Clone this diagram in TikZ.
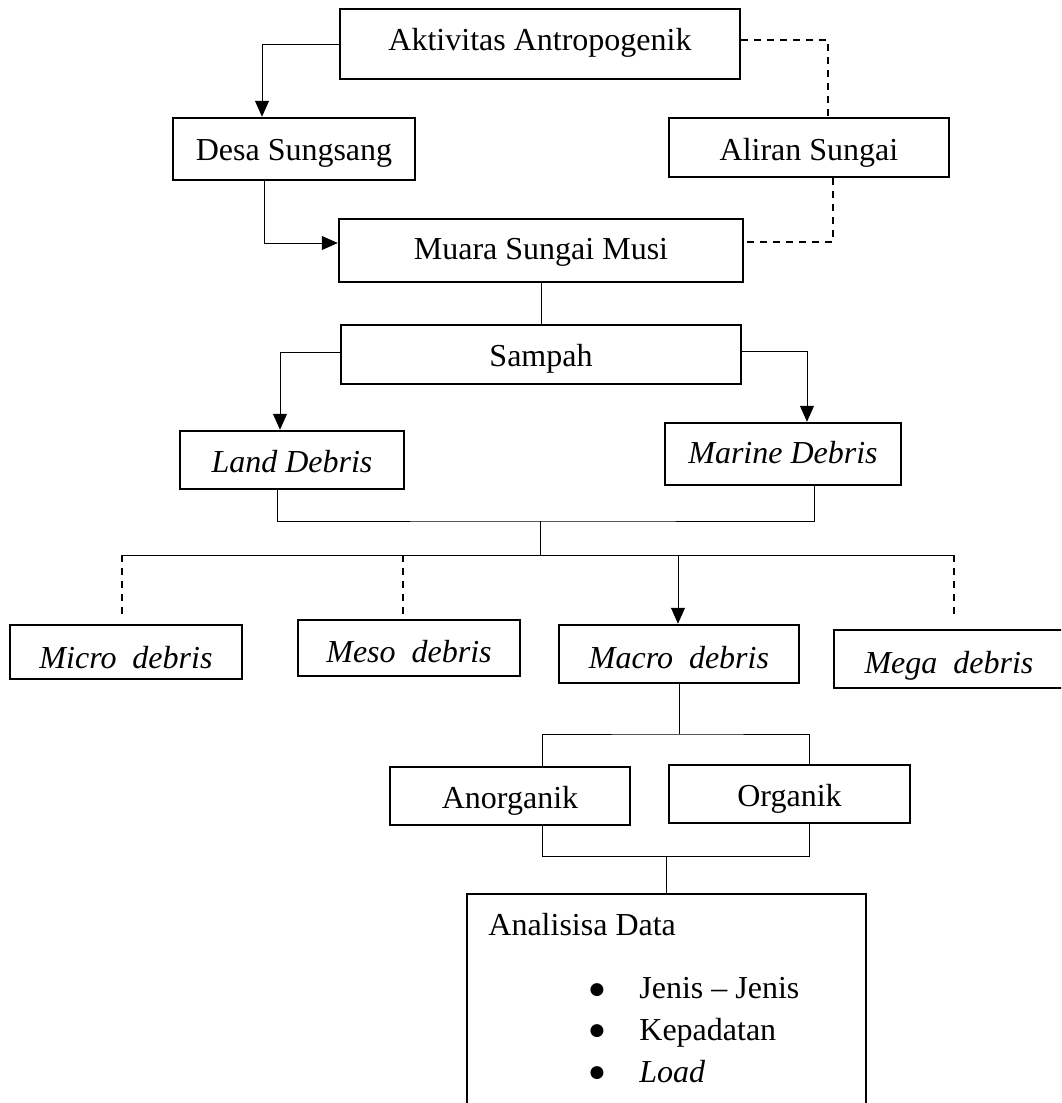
\documentclass[tikz,border=0pt]{standalone}
\usepackage{fontspec}
\setmainfont{Liberation Serif}
\newfontfamily\symfont{DejaVu Sans}
\usetikzlibrary{arrows.meta}
\begin{document}
\begin{tikzpicture}[x=0.5pt,y=-0.5pt,
  box/.style={draw, line width=1.25pt, inner sep=0pt, text depth=0pt, font=\fontsize{16pt}{19pt}\selectfont},
  tb/.style={text height=#1},
  txt/.style={inner sep=0pt, font=\fontsize{16pt}{19pt}\selectfont},
  bul/.style={inner sep=0pt, font=\symfont\fontsize{8.5pt}{8.5pt}\selectfont},
  conn/.style={line width=0.45pt},
  arr/.style={line width=0.45pt, -{Triangle[length=8pt,width=7pt]}},
  dsh/.style={line width=1pt, dash pattern=on 3.5pt off 3pt}]
\useasboundingbox (0,0) rectangle (1061,1103);
\fill[white] (0,0) rectangle (1061,1103);
\clip (0,0) rectangle (1061,1103);

% boxes
\node[box, tb=6pt, minimum width=200pt, minimum height=35pt] (akt) at (540,44) {Aktivitas Antropogenik};
\node[box, tb=11pt, minimum width=121pt, minimum height=31pt] (desa) at (294,149) {Desa Sungsang};
\node[box, tb=12.5pt, minimum width=140pt, minimum height=29.5pt] (aliran) at (809,147.5) {Aliran Sungai};
\node[box, tb=8.5pt, minimum width=202pt, minimum height=31.5pt] (muara) at (541,250.5) {Muara Sungai Musi};
\node[box, tb=11.5pt, minimum width=200pt, minimum height=29.5pt] (sampah) at (541,354.5) {Sampah};
\node[box, tb=12.5pt, minimum width=112pt, minimum height=29pt] (land) at (292,460) {\itshape Land Debris};
\node[box, tb=9pt, minimum width=118pt, minimum height=31pt] (marine) at (783,454) {\itshape Marine Debris};
\node[box, tb=16pt, minimum width=116pt, minimum height=27pt] (micro) at (126,652) {\itshape Micro\ \ debris};
\node[box, tb=14pt, minimum width=111pt, minimum height=28pt] (meso) at (409,648) {\itshape Meso\ \ debris};
\node[box, tb=14pt, minimum width=120pt, minimum height=29pt] (macro) at (679,654) {\itshape Macro\ \ debris};
\node[box, tb=14pt, minimum width=115pt, minimum height=29pt] (mega) at (949,659) {\itshape Mega\ \ debris};
\node[box, tb=12pt, minimum width=120pt, minimum height=29pt] (anorg) at (510,796) {Anorganik};
\node[box, tb=12pt, minimum width=120.5pt, minimum height=29pt] (organik) at (789.5,794) {Organik};
\node[box, minimum width=199.5pt, minimum height=116pt] (analisis) at (666.5,1010) {};

% analysis contents
\node[txt, anchor=base west] (title) at (488,935) {Analisisa Data};
\node[bul] (b1) at (597,990) {●};
\node[bul] (b2) at (597,1031) {●};
\node[bul] (b3) at (597,1073) {●};
\node[txt, anchor=base west] (i1) at (639,998) {Jenis -- Jenis};
\node[txt, anchor=base west] (i2) at (639,1040) {Kepadatan};
\node[txt, anchor=base west] (i3) at (639,1082) {\itshape Load};

% junction coordinates
\coordinate (j1) at (540,521);
\coordinate (j2) at (540,555);
\coordinate (bL) at (122,555);
\coordinate (bM) at (403,555);
\coordinate (bC) at (678,555);
\coordinate (bR) at (954,555);
\coordinate (j3) at (679,734);
\coordinate (j4) at (666.5,856);

% connectors
\draw[arr] (akt.west) -| ([xshift=-16pt]desa.north);
\draw[arr] ([xshift=-15pt]desa.south) |- ([yshift=3.75pt]muara.west);
\draw[dsh] ([yshift=2pt]akt.east) -| ([xshift=9.5pt]aliran.north);
\draw[dsh] ([xshift=12pt]aliran.south) |- ([yshift=4.25pt]muara.east);
\draw[conn] (muara.south) -- (sampah.north);
\draw[arr] ([yshift=1.25pt]sampah.west) -| ([xshift=-6pt]land.north);
\draw[arr] ([yshift=1.75pt]sampah.east) -| ([xshift=12pt]marine.north);
\draw[conn] ([xshift=-7.5pt]land.south) |- (j1) -| ([xshift=15.5pt]marine.south);
\draw[conn] (j1) -- (j2);
\draw[conn] (bL) -- (bR);
\draw[dsh] (bL) -- (bL |- meso.north);
\draw[dsh] (bM) -- (meso.north -| bM);
\draw[dsh] (bR) -- (bR |- meso.north);
\draw[arr] (bC) -- (bC |- macro.north);
\draw[conn] (macro.south) -- (j3);
\draw[conn] ([xshift=16pt]anorg.north) |- (j3) -| ([xshift=9.75pt]organik.north);
\draw[conn] ([xshift=16pt]anorg.south) |- (j4) -| ([xshift=9.75pt]organik.south);
\draw[conn] (j4) -- (analisis.north);
\end{tikzpicture}
\end{document}
